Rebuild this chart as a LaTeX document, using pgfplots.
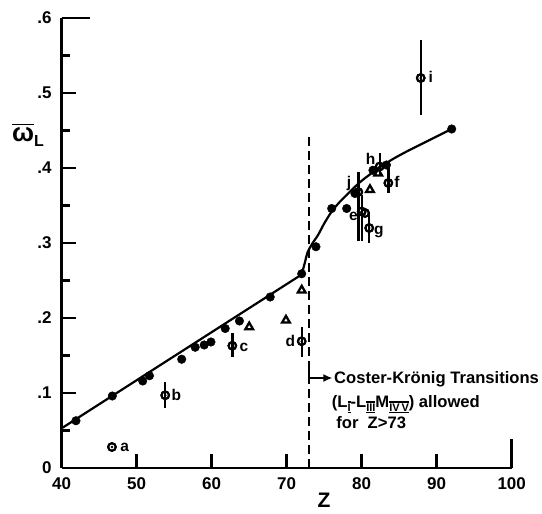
\documentclass[border=0pt]{standalone}
\usepackage{fontspec}
\setmainfont{Liberation Sans}
\usepackage{pgfplots}
\pgfplotsset{compat=1.18}
\usetikzlibrary{arrows.meta}
\newlength\rnw
\newcommand{\rn}[1]{\raisebox{-6pt}{\fontsize{11}{11}\selectfont\bfseries\setbox0=\hbox{#1}\rnw=\wd0 \vbox{\hrule width\rnw height 1.1pt\kern0.9pt\box0\kern0.9pt\hrule width\rnw height 1.1pt}}}
\begin{document}
\begin{tikzpicture}[font=\bfseries]
\begin{axis}[
  scale only axis, width=450pt, height=450pt,
  at={(61.7pt,46pt)}, anchor=south west,
  xmin=40, xmax=100, ymin=0, ymax=0.6,
  axis x line*=bottom, axis y line*=left,
  axis line style={line width=2.4pt},
  xtick={40,50,60,70,80,90,100},
  xticklabels={40,50,60,70,80,90,100},
  ytick={0,0.1,0.2,0.3,0.4,0.5,0.6},
  yticklabels={0,.1,.2,.3,.4,.5,.6},
  minor ytick={0.05,0.15,0.25,0.35,0.45,0.55},
  tick align=inside,
  major tick length=14pt, minor tick length=8pt,
  every tick/.style={line width=2.5pt, black},
  tick label style={font=\bfseries\fontsize{17}{17}\selectfont},
  xticklabel style={anchor=north, inner sep=0pt, yshift=-9pt},
  yticklabel style={anchor=east, inner sep=0pt, xshift=-10pt},
  clip=false,
]
% tick marks drawn as short segments (x ticks)
\addplot[line width=2.5pt, no marks] coordinates {(50,0) (50,0.0187)};
\addplot[line width=2.5pt, no marks] coordinates {(60,0) (60,0.0187)};
\addplot[line width=2.5pt, no marks] coordinates {(70,0) (70,0.0187)};
\addplot[line width=2.5pt, no marks] coordinates {(80,0) (80,0.0187)};
\addplot[line width=2.5pt, no marks] coordinates {(90,0) (90,0.0187)};
\addplot[line width=2.5pt, no marks] coordinates {(100,0) (100,0.039)};
% y ticks
\addplot[line width=2.5pt, no marks] coordinates {(40,0.1) (41.87,0.1)};
\addplot[line width=2.5pt, no marks] coordinates {(40,0.2) (41.87,0.2)};
\addplot[line width=2.5pt, no marks] coordinates {(40,0.3) (41.87,0.3)};
\addplot[line width=2.5pt, no marks] coordinates {(40,0.4) (41.87,0.4)};
\addplot[line width=2.5pt, no marks] coordinates {(40,0.5) (41.87,0.5)};
\addplot[line width=2.5pt, no marks] coordinates {(40,0.6) (43.8,0.6)};
\addplot[line width=2.5pt, no marks] coordinates {(40,0.05) (41.07,0.05)};
\addplot[line width=2.5pt, no marks] coordinates {(40,0.15) (41.07,0.15)};
\addplot[line width=2.5pt, no marks] coordinates {(40,0.25) (41.07,0.25)};
\addplot[line width=2.5pt, no marks] coordinates {(40,0.35) (41.07,0.35)};
\addplot[line width=2.5pt, no marks] coordinates {(40,0.45) (41.07,0.45)};
\addplot[line width=2.5pt, no marks] coordinates {(40,0.55) (41.07,0.55)};
% fit curve
\addplot[line width=2.2pt, no marks] coordinates {(40,0.053) (72,0.258)};
\addplot[line width=2.2pt, no marks, smooth, tension=0.5] coordinates {
 (72,0.258) (72.4,0.273) (72.8,0.288) (73.4,0.299) (74.2,0.311) (75,0.326)
 (76,0.342) (77,0.354) (78,0.364) (79,0.374) (80,0.383) (82,0.398)
 (84,0.411) (86,0.422) (88,0.432) (90,0.442) (92,0.452)};
% filled circles
\addplot[only marks, mark=*, mark size=4.3pt] coordinates {
 (41.9,0.063) (46.75,0.096) (50.8,0.116) (51.7,0.123) (56.0,0.145)
 (57.8,0.161) (59.0,0.164) (59.9,0.168) (61.8,0.186) (63.7,0.196)
 (67.8,0.228) (72.0,0.259) (73.9,0.295) (76.0,0.346) (78.0,0.346)
 (79.1,0.366) (81.5,0.397) (83.3,0.404) (92.0,0.452)};
% triangles
\addplot[only marks, mark=triangle, mark size=4.4pt, mark options={line width=2.3pt}] coordinates {
 (72.0,0.237) (65.0,0.188) (69.9,0.197) (81.1,0.371) (82.2,0.393)};
% open circles with error bars
\addplot[only marks, mark=o, mark size=3.8pt, mark options={line width=2pt, fill=white},
  error bars/.cd, y dir=both, y explicit, error mark=none,
  error bar style={line width=2.4pt}]
  table[x=x, y=y, y error plus=ep, y error minus=em] {
x y ep em
46.7 0.028 0 0
53.8 0.097 0.018 0.017
62.75 0.163 0.017 0.015
72.0 0.169 0.019 0.021
79.55 0.368 0.027 0.066
80.0 0.342 0.022 0.040
80.45 0.340 0 0
81.0 0.320 0.020 0.020
82.4 0.402 0.018 0.013
83.55 0.380 0.024 0.014
87.87 0.520 0.050 0.049
};
\addplot[only marks, mark=o, mark size=3.8pt, mark options={line width=2pt, fill=white}] coordinates {
 (46.7,0.028) (53.8,0.097) (62.75,0.163) (72.0,0.169) (79.55,0.368) (80.0,0.342)
 (80.45,0.340) (81.0,0.320) (82.4,0.402) (83.55,0.380) (87.87,0.520)};
\addplot[only marks, mark=*, mark size=1.1pt] coordinates {
 (46.7,0.028) (53.8,0.097) (62.75,0.163) (72.0,0.169) (79.55,0.368) (80.0,0.342)
 (80.45,0.340) (81.0,0.320) (82.4,0.402) (83.55,0.380) (87.87,0.520)};
% point labels
\begin{scope}[every node/.style={inner sep=0pt, font=\bfseries\fontsize{15.5}{15.5}\selectfont}]
\node at (axis cs:48.4,0.027) {a};
\node at (axis cs:55.3,0.097) {b};
\node at (axis cs:64.3,0.161) {c};
\node at (axis cs:70.5,0.170) {d};
\node at (axis cs:78.9,0.335) {e};
\node at (axis cs:82.3,0.315) {g};
\node at (axis cs:78.3,0.379) {j};
\node at (axis cs:81.2,0.412) {h};
\node at (axis cs:84.7,0.381) {f};
\node at (axis cs:89.2,0.521) {i};
\end{scope}
% dashed threshold line and annotation
\draw[line width=2pt, dash pattern=on 9pt off 5pt] (axis cs:73,0) -- (axis cs:73,0.447);
\draw[line width=2pt, -{Latex[length=9pt,width=8pt]}] (axis cs:73,0.135) -- (axis cs:73,0.12) -- (axis cs:76.1,0.12);
\begin{scope}[every node/.style={inner sep=0pt, anchor=base west, font=\bfseries\fontsize{16.6}{20}\selectfont}]
\node at (axis cs:76.3,0.112) {Coster-Krönig Transitions};
\node at (axis cs:76.0,0.0813) {(L\rn{I}-L\rn{III}M\rn{IV\,V}) allowed};
\node at (axis cs:76.6,0.052) {for \ Z>73};
\end{scope}
% axis labels
\node at (rel axis cs:-0.075,0.74) {\fontsize{26}{26}\selectfont\vbox{\hrule height 1.6pt\kern2pt\hbox{ω}}\raisebox{-5pt}{\fontsize{16}{16}\selectfont L}};
\node at (rel axis cs:0.583,-0.071) {\fontsize{21}{21}\selectfont Z};
\end{axis}
\pgfresetboundingbox
\path[use as bounding box] (0,0) rectangle (542pt,514pt);
\end{tikzpicture}
\end{document}
